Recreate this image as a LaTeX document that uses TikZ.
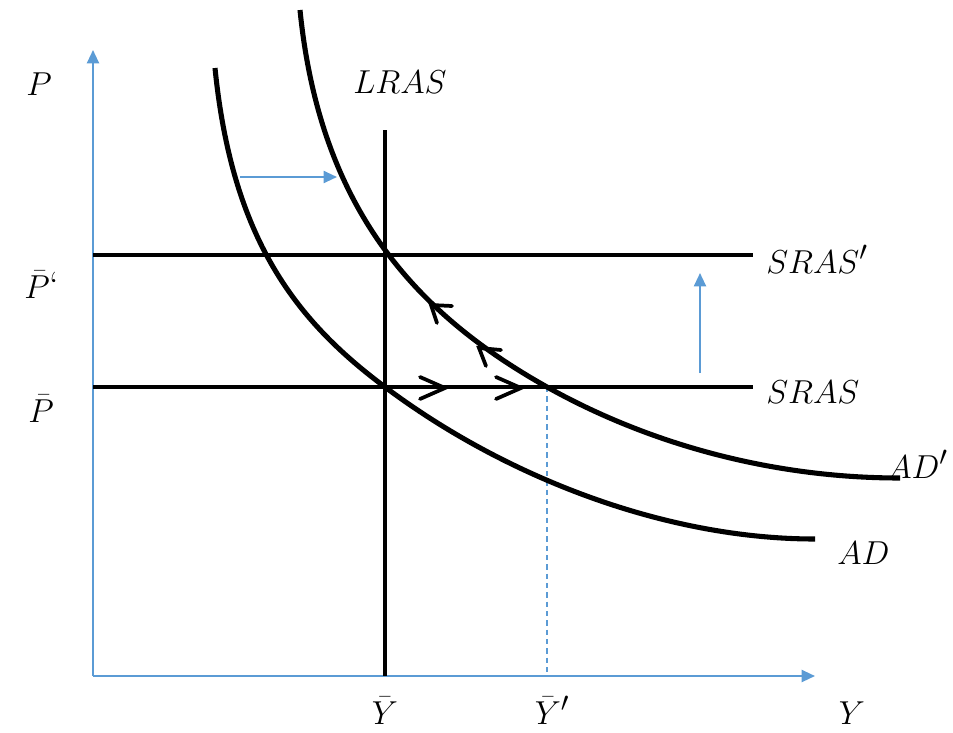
\documentclass[tikz,border=0pt]{standalone}
\usetikzlibrary{arrows.meta}
\definecolor{axisblue}{RGB}{91,155,213}
\begin{document}
\begin{tikzpicture}[x=0.75pt,y=-0.75pt,
  axisline/.style={draw=axisblue, line width=1.6pt, -{Triangle[length=10pt,width=9pt]}},
  shiftarrow/.style={draw=axisblue, line width=1.5pt, -{Triangle[length=10pt,width=9pt]}},
  curveline/.style={line width=3.8pt},
  levelline/.style={line width=2.5pt},
  chev/.style={line width=2.8pt, line cap=round, line join=miter},
  lbl/.style={font=\fontsize{28.5}{33}\selectfont, inner sep=0pt}]
\useasboundingbox (0,0) rectangle (953,732);
% axes
\coordinate (O) at (93,676);
\coordinate (ytop) at (93,50);
\coordinate (xend) at (815,676);
\draw[axisline] (O) -- (ytop);
\draw[axisline] (O) -- (xend);
% LRAS, SRAS lines
\coordinate (lrasT) at (385,130);
\coordinate (lrasB) at (385,676);
\draw[levelline] (lrasT) -- (lrasB);
\coordinate (s1L) at (93,255);
\coordinate (s1R) at (753,255);
\draw[levelline] (s1L) -- (s1R);
\coordinate (s0L) at (93,387);
\coordinate (s0R) at (753,387);
\draw[levelline] (s0L) -- (s0R);
% dashed drop
\coordinate (eq2) at (547,387);
\coordinate (eq2B) at (547,676);
\draw[axisblue, line width=1.1pt, dash pattern=on 4pt off 3pt] (eq2) -- (eq2B);
% AD curve
\coordinate (adS) at (215,68);
\coordinate (eq1) at (385,387);
\coordinate (adE) at (815,539);
\draw[curveline] (adS) .. controls (232,238) and (295,320) .. (eq1)
  .. controls (505,477) and (665,539) .. (adE);
% AD' curve
\coordinate (ad1S) at (300,10);
\coordinate (ad1E) at (900,478);
\draw[curveline] (ad1S) .. controls (320,210) and (417,314) .. (eq2)
  .. controls (647,443) and (770,478) .. (ad1E);
% blue shift arrows
\coordinate (hA) at (240,177);
\coordinate (hB) at (337,177);
\draw[shiftarrow] (hA) -- (hB);
\coordinate (vA) at (700,373);
\coordinate (vB) at (700,273);
\draw[shiftarrow] (vA) -- (vB);
% chevrons on SRAS
\draw[chev] (420,377) -- (445,388) -- (420,399);
\draw[chev] (496,377) -- (521,388) -- (496,399);
% chevrons on AD'
\draw[chev] (452,306) -- (431,305) -- (437,323);
\draw[chev] (501,350) -- (479,348) -- (486,366);
% labels
\node[lbl, anchor=base west] (lP) at (26,95) {$P$};
\node[lbl, anchor=base] (lLRAS) at (400,93) {$LRAS$};
\node[lbl, anchor=base west] (lP1) at (24,298) {$\bar{P}$\textquoteleft};
\node[lbl, anchor=base west] (lP0) at (28,422) {$\bar{P}$};
\node[lbl, anchor=base west] (lSRAS1) at (766,273) {$SRAS'$};
\node[lbl, anchor=base west] (lSRAS0) at (766,403) {$SRAS$};
\node[lbl, anchor=base west] (lAD1) at (887,478) {$AD'$};
\node[lbl, anchor=base west] (lAD0) at (837,564) {$AD$};
\node[lbl, anchor=base] (lY0) at (385,724) {$\bar{Y}$};
\node[lbl, anchor=base] (lY1) at (552,724) {$\bar{Y}'$};
\node[lbl, anchor=base] (lY) at (852,724) {$Y$};
\end{tikzpicture}
\end{document}
